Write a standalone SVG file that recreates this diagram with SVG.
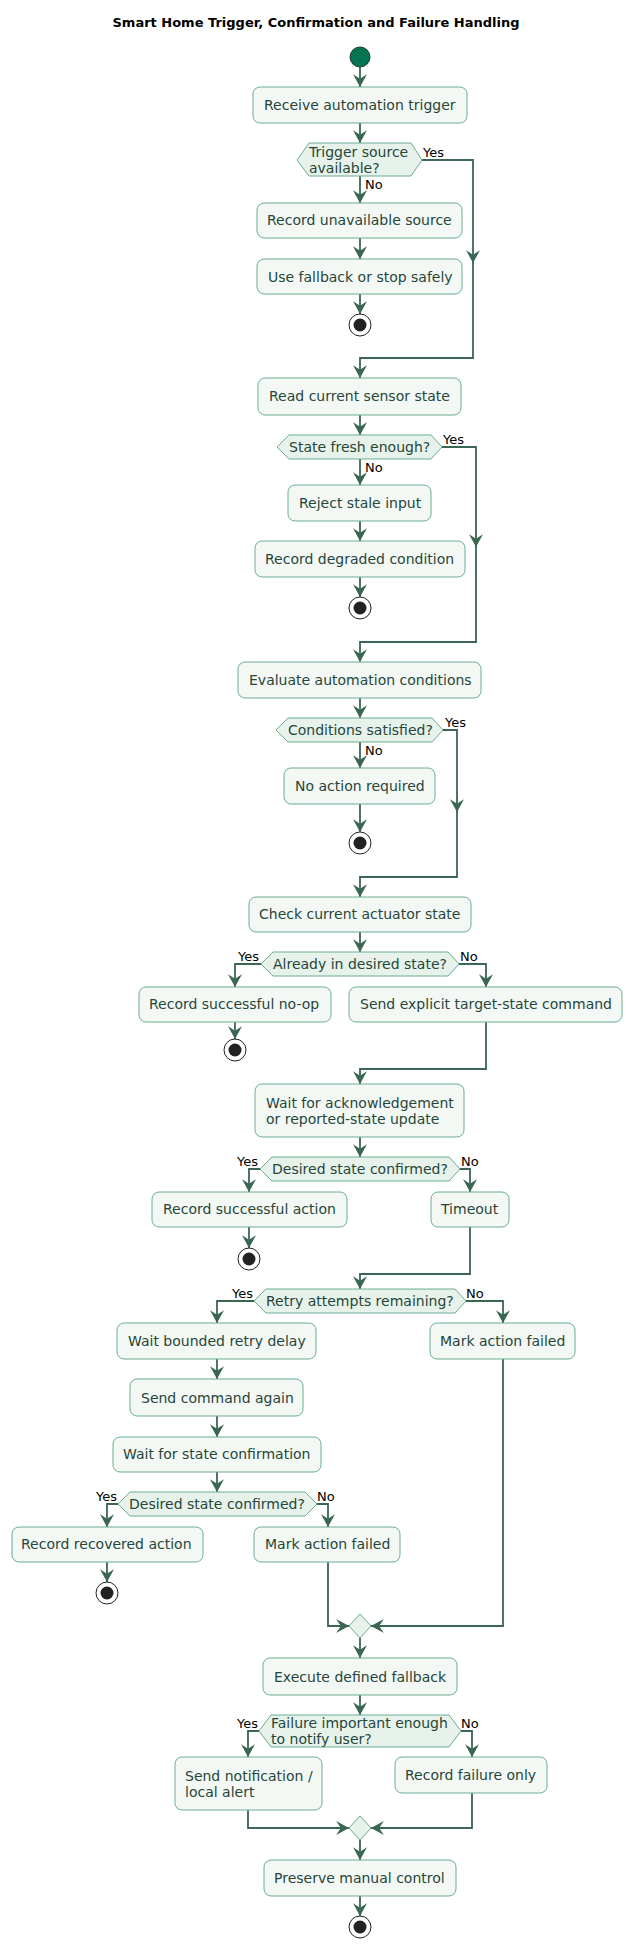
<svg xmlns="http://www.w3.org/2000/svg" width="632" height="1948" viewBox="0 0 632 1948">
<style>
.b{fill:#f3f8f5;stroke:#6aae91;stroke-width:1}
.d{fill:#e7f2eb;stroke:#6aae91;stroke-width:1}
.t{font-family:"DejaVu Sans",sans-serif;font-size:14px;fill:#26463a}
.l{font-family:"DejaVu Sans",sans-serif;font-size:13px;fill:#000}
.c path{fill:none;stroke:#3b6652;stroke-width:1.8}
.stop circle.o{fill:#fff;stroke:#222;stroke-width:1}
.stop circle.i{fill:#222}
</style>
<defs>
<marker id="a" markerUnits="userSpaceOnUse" markerWidth="14" markerHeight="14" refX="11" refY="6" orient="auto" viewBox="0 0 12 12">
<path d="M0,0 L11,6 L0,12 L4,6 Z" fill="#3b6652"/>
</marker>
</defs>
<text x="316" y="27" text-anchor="middle" font-family="DejaVu Sans,sans-serif" font-size="13" font-weight="bold">Smart Home Trigger, Confirmation and Failure Handling</text>

<g class="c" id="connectors">
<path d="M360,67 V87" marker-end="url(#a)"/>
<path d="M360,123 V143" marker-end="url(#a)"/>
<path d="M360,176 V203" marker-end="url(#a)"/>
<path d="M360,238 V259" marker-end="url(#a)"/>
<path d="M360,294 V314" marker-end="url(#a)"/>
<path d="M422,160 H473 V263" marker-end="url(#a)"/>
<path d="M473,260 V358 H360 V378" marker-end="url(#a)"/>
<path d="M360,415 V435" marker-end="url(#a)"/>
<path d="M360,459 V485" marker-end="url(#a)"/>
<path d="M360,521 V541" marker-end="url(#a)"/>
<path d="M360,577 V597" marker-end="url(#a)"/>
<path d="M442,447 H476 V547" marker-end="url(#a)"/>
<path d="M476,544 V642 H360 V662" marker-end="url(#a)"/>
<path d="M360,698 V718" marker-end="url(#a)"/>
<path d="M360,742 V768" marker-end="url(#a)"/>
<path d="M360,804 V832" marker-end="url(#a)"/>
<path d="M443,730 H457 V812" marker-end="url(#a)"/>
<path d="M457,809 V877 H360 V897" marker-end="url(#a)"/>
<path d="M360,932 V952" marker-end="url(#a)"/>
<path d="M261,964 H235 V987" marker-end="url(#a)"/>
<path d="M235,1022 V1039" marker-end="url(#a)"/>
<path d="M459,964 H486 V987" marker-end="url(#a)"/>
<path d="M486,1022 V1069 H360 V1084" marker-end="url(#a)"/>
<path d="M360,1137 V1157" marker-end="url(#a)"/>
<path d="M260,1169 H249 V1192" marker-end="url(#a)"/>
<path d="M249,1227 V1248" marker-end="url(#a)"/>
<path d="M460,1169 H470 V1192" marker-end="url(#a)"/>
<path d="M470,1227 V1274 H360 V1289" marker-end="url(#a)"/>
<path d="M254,1301 H217 V1323" marker-end="url(#a)"/>
<path d="M466,1301 H503 V1323" marker-end="url(#a)"/>
<path d="M217,1359 V1379" marker-end="url(#a)"/>
<path d="M217,1416 V1437" marker-end="url(#a)"/>
<path d="M217,1472 V1492" marker-end="url(#a)"/>
<path d="M118,1504 H107 V1527" marker-end="url(#a)"/>
<path d="M107,1562 V1582" marker-end="url(#a)"/>
<path d="M317,1504 H328 V1527" marker-end="url(#a)"/>
<path d="M328,1562 V1626 H349" marker-end="url(#a)"/>
<path d="M503,1359 V1626 H371" marker-end="url(#a)"/>
<path d="M360,1638 V1658" marker-end="url(#a)"/>
<path d="M360,1695 V1715" marker-end="url(#a)"/>
<path d="M259,1731 H248 V1757" marker-end="url(#a)"/>
<path d="M461,1731 H472 V1757" marker-end="url(#a)"/>
<path d="M248,1810 V1828 H349" marker-end="url(#a)"/>
<path d="M472,1793 V1828 H371" marker-end="url(#a)"/>
<path d="M360,1840 V1860" marker-end="url(#a)"/>
<path d="M360,1896 V1916" marker-end="url(#a)"/>
</g>
<g id="labels">
<text class="l" x="423" y="157">Yes</text>
<text class="l" x="365" y="189">No</text>
<text class="l" x="443" y="444">Yes</text>
<text class="l" x="365" y="472">No</text>
<text class="l" x="445" y="727">Yes</text>
<text class="l" x="365" y="755">No</text>
<text class="l" x="259" y="961" text-anchor="end">Yes</text>
<text class="l" x="460" y="961">No</text>
<text class="l" x="258" y="1166" text-anchor="end">Yes</text>
<text class="l" x="461" y="1166">No</text>
<text class="l" x="253" y="1298" text-anchor="end">Yes</text>
<text class="l" x="466" y="1298">No</text>
<text class="l" x="117" y="1501" text-anchor="end">Yes</text>
<text class="l" x="317" y="1501">No</text>
<text class="l" x="258" y="1728" text-anchor="end">Yes</text>
<text class="l" x="461" y="1728">No</text>
</g>

<g id="start"><circle cx="360" cy="57" r="10" fill="#047550" stroke="#1f3d31" stroke-width="1"/></g>
<g id="n1"><rect class="b" x="253" y="87" width="214" height="36" rx="7"/><text class="t" x="264" y="110">Receive automation trigger</text></g>
<g id="d1"><polygon class="d" points="297,160 309,143 411,143 422,160 411,176 309,176"/><text class="t" x="309" y="157">Trigger source</text><text class="t" x="309" y="173">available?</text></g>
<g id="n2"><rect class="b" x="257" y="203" width="205" height="35" rx="7"/><text class="t" x="267" y="225">Record unavailable source</text></g>
<g id="n3"><rect class="b" x="257" y="259" width="205" height="35" rx="7"/><text class="t" x="268" y="282">Use fallback or stop safely</text></g>
<g id="stop1" class="stop"><circle class="o" cx="360" cy="325" r="11"/><circle class="i" cx="360" cy="325" r="6.5"/></g>
<g id="n4"><rect class="b" x="258" y="378" width="203" height="37" rx="7"/><text class="t" x="269" y="401">Read current sensor state</text></g>
<g id="d2"><polygon class="d" points="277,447 289,435 431,435 442,447 431,459 289,459"/><text class="t" x="289" y="452">State fresh enough?</text></g>
<g id="n5"><rect class="b" x="288" y="485" width="143" height="36" rx="7"/><text class="t" x="299" y="508">Reject stale input</text></g>
<g id="n6"><rect class="b" x="255" y="541" width="210" height="36" rx="7"/><text class="t" x="265" y="564">Record degraded condition</text></g>
<g id="stop2" class="stop"><circle class="o" cx="360" cy="608" r="11"/><circle class="i" cx="360" cy="608" r="6.5"/></g>
<g id="n7"><rect class="b" x="238" y="662" width="243" height="36" rx="7"/><text class="t" x="249" y="685">Evaluate automation conditions</text></g>
<g id="d3"><polygon class="d" points="276,730 288,718 432,718 443,730 432,742 288,742"/><text class="t" x="288" y="735">Conditions satisfied?</text></g>
<g id="n8"><rect class="b" x="284" y="768" width="151" height="36" rx="7"/><text class="t" x="295" y="791">No action required</text></g>
<g id="stop3" class="stop"><circle class="o" cx="360" cy="843" r="11"/><circle class="i" cx="360" cy="843" r="6.5"/></g>
<g id="n9"><rect class="b" x="249" y="897" width="222" height="35" rx="7"/><text class="t" x="259" y="919">Check current actuator state</text></g>
<g id="d4"><polygon class="d" points="261,964 273,952 448,952 459,964 448,976 273,976"/><text class="t" x="273" y="969">Already in desired state?</text></g>
<g id="n10"><rect class="b" x="139" y="987" width="192" height="35" rx="7"/><text class="t" x="149" y="1009">Record successful no-op</text></g>
<g id="stop4" class="stop"><circle class="o" cx="235" cy="1050" r="11"/><circle class="i" cx="235" cy="1050" r="6.5"/></g>
<g id="n11"><rect class="b" x="349" y="987" width="273" height="35" rx="7"/><text class="t" x="360" y="1009">Send explicit target-state command</text></g>
<g id="n12"><rect class="b" x="255" y="1084" width="209" height="53" rx="7"/><text class="t" x="266" y="1108">Wait for acknowledgement</text><text class="t" x="266" y="1124">or reported-state update</text></g>
<g id="d5"><polygon class="d" points="260,1169 272,1157 449,1157 460,1169 449,1181 272,1181"/><text class="t" x="272" y="1174">Desired state confirmed?</text></g>
<g id="n13"><rect class="b" x="152" y="1192" width="195" height="35" rx="7"/><text class="t" x="163" y="1214">Record successful action</text></g>
<g id="stop5" class="stop"><circle class="o" cx="249" cy="1259" r="11"/><circle class="i" cx="249" cy="1259" r="6.5"/></g>
<g id="n14"><rect class="b" x="431" y="1192" width="78" height="35" rx="7"/><text class="t" x="441" y="1214">Timeout</text></g>
<g id="d6"><polygon class="d" points="254,1301 266,1289 455,1289 466,1301 455,1313 266,1313"/><text class="t" x="266" y="1306">Retry attempts remaining?</text></g>
<g id="n15"><rect class="b" x="117" y="1323" width="199" height="36" rx="7"/><text class="t" x="128" y="1346">Wait bounded retry delay</text></g>
<g id="n16"><rect class="b" x="430" y="1323" width="145" height="36" rx="7"/><text class="t" x="440" y="1346">Mark action failed</text></g>
<g id="n17"><rect class="b" x="130" y="1379" width="173" height="37" rx="7"/><text class="t" x="141" y="1403">Send command again</text></g>
<g id="n18"><rect class="b" x="113" y="1437" width="208" height="35" rx="7"/><text class="t" x="123" y="1459">Wait for state confirmation</text></g>
<g id="d7"><polygon class="d" points="118,1504 130,1492 305,1492 317,1504 305,1516 130,1516"/><text class="t" x="129" y="1509">Desired state confirmed?</text></g>
<g id="n19"><rect class="b" x="12" y="1527" width="191" height="35" rx="7"/><text class="t" x="21" y="1549">Record recovered action</text></g>
<g id="stop6" class="stop"><circle class="o" cx="107" cy="1593" r="11"/><circle class="i" cx="107" cy="1593" r="6.5"/></g>
<g id="n20"><rect class="b" x="254" y="1527" width="146" height="35" rx="7"/><text class="t" x="265" y="1549">Mark action failed</text></g>
<g id="m1"><polygon class="d" points="360,1614 371,1626 360,1638 349,1626"/></g>
<g id="n21"><rect class="b" x="263" y="1658" width="194" height="37" rx="7"/><text class="t" x="274" y="1682">Execute defined fallback</text></g>
<g id="d8"><polygon class="d" points="259,1731 271,1715 449,1715 461,1731 449,1747 271,1747"/><text class="t" x="271" y="1728">Failure important enough</text><text class="t" x="271" y="1744">to notify user?</text></g>
<g id="n22"><rect class="b" x="175" y="1757" width="147" height="53" rx="7"/><text class="t" x="185" y="1781">Send notification /</text><text class="t" x="185" y="1797">local alert</text></g>
<g id="n23"><rect class="b" x="395" y="1757" width="152" height="36" rx="7"/><text class="t" x="405" y="1780">Record failure only</text></g>
<g id="m2"><polygon class="d" points="360,1816 371,1828 360,1840 349,1828"/></g>
<g id="n24"><rect class="b" x="264" y="1860" width="192" height="36" rx="7"/><text class="t" x="274" y="1883">Preserve manual control</text></g>
<g id="stop7" class="stop"><circle class="o" cx="360" cy="1927" r="11"/><circle class="i" cx="360" cy="1927" r="6.5"/></g>
</svg>
